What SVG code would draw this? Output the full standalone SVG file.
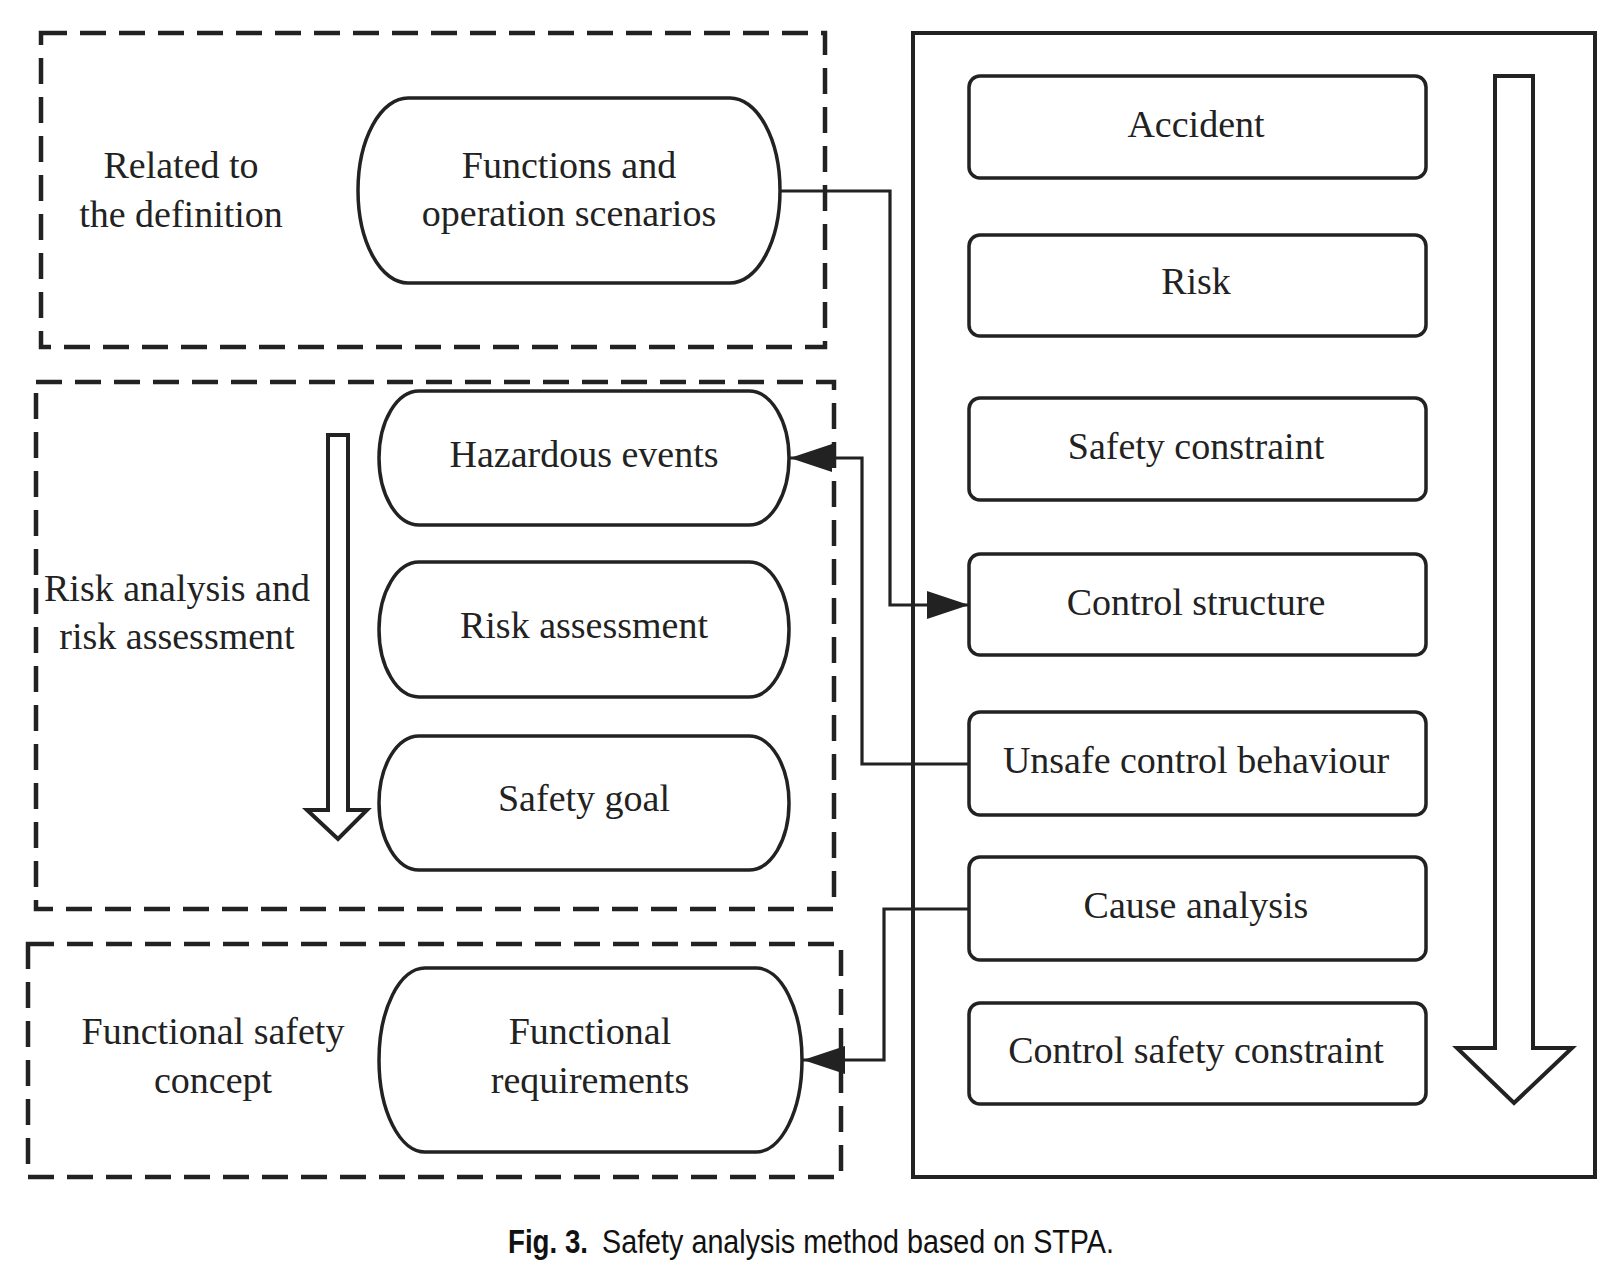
<svg xmlns="http://www.w3.org/2000/svg" width="1623" height="1262" viewBox="0 0 1623 1262">
<style>
.dash{fill:none;stroke:#222;stroke-width:4.5;stroke-dasharray:26 13}
.cap{fill:#fff;stroke:#222;stroke-width:3.5}
.box{fill:#fff;stroke:#222;stroke-width:3.5}
.conn{fill:none;stroke:#222;stroke-width:3.2}
.big{fill:#fff;stroke:#222;stroke-width:4;stroke-linejoin:miter}
text{font-family:"Liberation Serif","Times New Roman",serif;font-size:38px;fill:#222;text-anchor:middle}
.capt{font-family:"Liberation Sans",Arial,sans-serif;font-size:33px;fill:#111;text-anchor:start}
</style>
<defs>
<marker id="ah" markerUnits="userSpaceOnUse" markerWidth="44" markerHeight="30" refX="42" refY="15" orient="auto">
<path d="M0,1 L42,15 L0,29 Z" fill="#222"/>
</marker>
</defs>
<rect width="1623" height="1262" fill="#fff"/>

<g id="group-definition">
<rect class="dash" x="41" y="33" width="784" height="314"/>
<text x="181" y="178">Related to</text>
<text x="181" y="227">the definition</text>
</g>
<g id="group-risk">
<rect class="dash" x="36" y="382" width="798" height="527"/>
<text x="177" y="601">Risk analysis and</text>
<text x="177" y="649">risk assessment</text>
<path class="big" d="M328,435 H348 V810 H367 L338,839 L307,810 H328 Z"/>
</g>
<g id="group-fsc">
<rect class="dash" x="28" y="944" width="813" height="233"/>
<text x="213" y="1044">Functional safety</text>
<text x="213" y="1093">concept</text>
</g>

<g id="stpa-frame">
<rect x="913" y="33" width="682" height="1144" fill="none" stroke="#222" stroke-width="4"/>
<path class="big" d="M1495,76 H1533 V1048 H1572 L1514,1103 L1457,1048 H1495 Z"/>
</g>

<g id="node-functions">
<path class="cap" d="M408,98 H730 A50,92.5 0 0 1 780,190.5 A50,92.5 0 0 1 730,283 H408 A50,92.5 0 0 1 358,190.5 A50,92.5 0 0 1 408,98 Z"/>
<text x="569" y="178">Functions and</text>
<text x="569" y="226">operation scenarios</text>
</g>
<g id="node-hazardous">
<path class="cap" d="M419,391 H749 A40,67 0 0 1 789,458 A40,67 0 0 1 749,525 H419 A40,67 0 0 1 379,458 A40,67 0 0 1 419,391 Z"/>
<text x="584" y="467">Hazardous events</text>
</g>
<g id="node-riskassess">
<path class="cap" d="M419,562 H749 A40,67.5 0 0 1 789,629.5 A40,67.5 0 0 1 749,697 H419 A40,67.5 0 0 1 379,629.5 A40,67.5 0 0 1 419,562 Z"/>
<text x="584" y="638">Risk assessment</text>
</g>
<g id="node-safetygoal">
<path class="cap" d="M419,736 H749 A40,67 0 0 1 789,803 A40,67 0 0 1 749,870 H419 A40,67 0 0 1 379,803 A40,67 0 0 1 419,736 Z"/>
<text x="584" y="811">Safety goal</text>
</g>
<g id="node-funcreq">
<path class="cap" d="M425,968 H756 A46,92 0 0 1 802,1060 A46,92 0 0 1 756,1152 H425 A46,92 0 0 1 379,1060 A46,92 0 0 1 425,968 Z"/>
<text x="590" y="1044">Functional</text>
<text x="590" y="1093">requirements</text>
</g>

<g id="node-accident"><rect class="box" x="969" y="76" width="457" height="102" rx="11"/><text x="1196" y="137">Accident</text></g>
<g id="node-risk"><rect class="box" x="969" y="235" width="457" height="101" rx="11"/><text x="1196" y="294">Risk</text></g>
<g id="node-safetyconstraint"><rect class="box" x="969" y="398" width="457" height="102" rx="11"/><text x="1196" y="459">Safety constraint</text></g>
<g id="node-controlstructure"><rect class="box" x="969" y="554" width="457" height="101" rx="11"/><text x="1196" y="615">Control structure</text></g>
<g id="node-ucb"><rect class="box" x="969" y="712" width="457" height="103" rx="11"/><text x="1196" y="773">Unsafe control behaviour</text></g>
<g id="node-cause"><rect class="box" x="969" y="857" width="457" height="103" rx="11"/><text x="1196" y="918">Cause analysis</text></g>
<g id="node-csc"><rect class="box" x="969" y="1003" width="457" height="101" rx="11"/><text x="1196" y="1063">Control safety constraint</text></g>

<g id="connectors">
<path class="conn" d="M780,191 H890 V605 H969" marker-end="url(#ah)"/>
<path class="conn" d="M969,764 H862 V458 H790" marker-end="url(#ah)"/>
<path class="conn" d="M969,909 H884 V1060 H803" marker-end="url(#ah)"/>
</g>

<g id="caption">
<text class="capt" x="508" y="1253"><tspan font-weight="bold" textLength="80" lengthAdjust="spacingAndGlyphs">Fig. 3.</tspan><tspan x="602" textLength="512" lengthAdjust="spacingAndGlyphs">Safety analysis method based on STPA.</tspan></text>
</g>
</svg>
